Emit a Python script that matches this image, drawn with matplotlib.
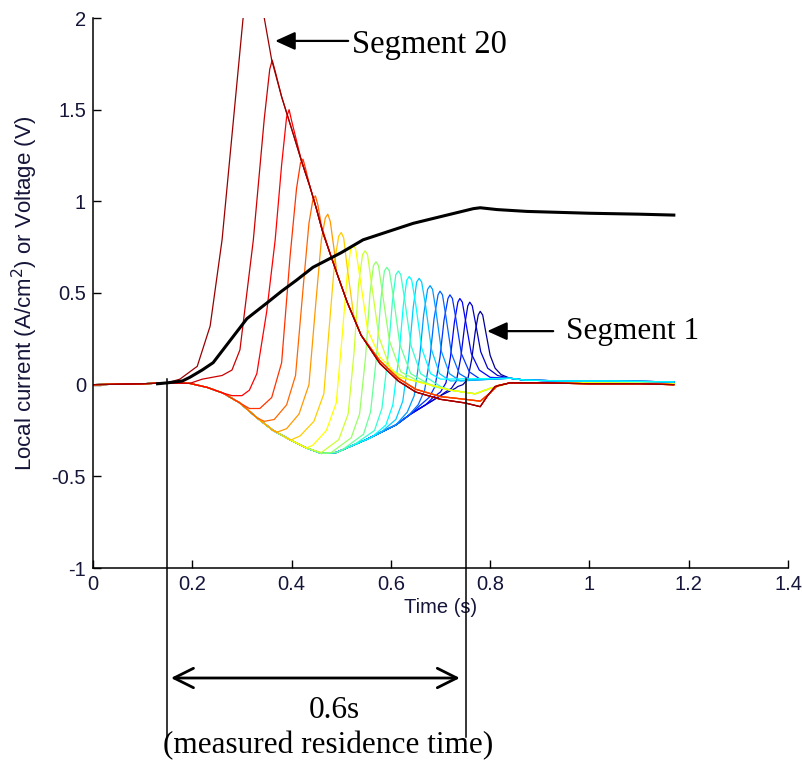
import numpy as np
import matplotlib.pyplot as plt

# --- datos (segmento 1 ... segmento 20) ---
peak_t = [0.780, 0.759, 0.739, 0.719, 0.699, 0.679, 0.657, 0.637, 0.615, 0.592,
          0.570, 0.548, 0.524, 0.500, 0.473, 0.448, 0.423, 0.395, 0.361, 0.323]
peak_v = [0.40, 0.45, 0.47, 0.49, 0.51, 0.54, 0.58, 0.59, 0.62, 0.64,
          0.67, 0.73, 0.76, 0.83, 0.93, 1.03, 1.23, 1.50, 1.77, 2.35]

# subida de cada segmento (desde que deja la envolvente negativa)
rise_pts = [
    [(0.735, -0.01), (0.745, 0.0), (0.755, 0.03), (0.763, 0.14), (0.77, 0.29), (0.776, 0.38)],
    [(0.71, -0.04), (0.722, -0.02), (0.732, 0.02), (0.741, 0.15), (0.749, 0.33), (0.755, 0.43)],
    [(0.685, -0.07), (0.70, -0.04), (0.711, 0.01), (0.72, 0.15), (0.728, 0.34), (0.735, 0.45)],
    [(0.66, -0.11), (0.677, -0.07), (0.689, -0.01), (0.699, 0.15), (0.707, 0.35), (0.715, 0.47)],
    [(0.635, -0.17), (0.655, -0.11), (0.668, -0.03), (0.679, 0.15), (0.687, 0.36), (0.695, 0.49)],
    [(0.61, -0.22), (0.633, -0.15), (0.647, -0.06), (0.658, 0.15), (0.666, 0.38), (0.674, 0.52)],
    [(0.58, -0.26), (0.61, -0.19), (0.624, -0.09), (0.636, 0.15), (0.645, 0.42), (0.652, 0.56)],
    [(0.56, -0.29), (0.59, -0.22), (0.604, -0.11), (0.616, 0.15), (0.625, 0.43), (0.632, 0.57)],
    [(0.53, -0.32), (0.567, -0.25), (0.582, -0.13), (0.594, 0.15), (0.603, 0.45), (0.61, 0.60)],
    [(0.50, -0.36), (0.545, -0.27), (0.559, -0.15), (0.571, 0.15), (0.58, 0.47), (0.587, 0.62)],
    [(0.48, -0.37), (0.52, -0.29), (0.537, -0.16), (0.549, 0.15), (0.558, 0.50), (0.565, 0.65)],
    [(0.46, -0.37), (0.495, -0.30), (0.514, -0.16), (0.526, 0.18), (0.535, 0.55), (0.543, 0.71)],
    [(0.43, -0.345), (0.443, -0.33), (0.47, -0.25), (0.49, -0.10), (0.503, 0.30), (0.512, 0.60), (0.519, 0.74)],
    [(0.40, -0.30), (0.417, -0.28), (0.445, -0.20), (0.465, -0.05), (0.477, 0.35), (0.487, 0.68), (0.495, 0.81)],
    [(0.37, -0.26), (0.39, -0.24), (0.415, -0.16), (0.435, 0.0), (0.449, 0.45), (0.46, 0.79), (0.468, 0.91)],
    [(0.345, -0.20), (0.365, -0.19), (0.39, -0.11), (0.408, 0.05), (0.424, 0.55), (0.435, 0.88), (0.443, 1.01)],
    [(0.315, -0.13), (0.336, -0.13), (0.36, -0.07), (0.38, 0.12), (0.397, 0.70), (0.41, 1.07), (0.418, 1.21)],
    [(0.28, -0.06), (0.30, -0.06), (0.315, -0.03), (0.33, 0.06), (0.35, 0.40), (0.367, 0.79), (0.38, 1.20), (0.39, 1.46)],
    [(0.22, 0.03), (0.26, 0.05), (0.28, 0.08), (0.296, 0.19), (0.323, 0.79), (0.345, 1.45), (0.356, 1.72)],
    [(0.175, 0.03), (0.21, 0.10), (0.236, 0.32), (0.26, 0.79), (0.302, 1.99), (0.315, 2.28)],
]

# bajada despues del pico
fall_pts = [
    [(0.785, 0.38), (0.791, 0.29), (0.80, 0.16), (0.81, 0.09), (0.822, 0.055)],
    [(0.764, 0.43), (0.771, 0.33), (0.781, 0.18), (0.795, 0.09), (0.815, 0.05)],
    [(0.744, 0.45), (0.751, 0.34), (0.762, 0.17), (0.778, 0.08), (0.80, 0.04)],
    [(0.724, 0.47), (0.731, 0.36), (0.742, 0.17), (0.758, 0.07), (0.78, 0.03)],
    [(0.704, 0.49), (0.711, 0.37), (0.722, 0.17), (0.738, 0.06), (0.76, 0.025)],
    [(0.684, 0.52), (0.691, 0.40), (0.702, 0.18), (0.718, 0.06), (0.74, 0.02)],
    [(0.662, 0.56), (0.67, 0.43), (0.682, 0.19), (0.698, 0.06), (0.72, 0.02)],
    [(0.642, 0.57), (0.65, 0.44), (0.662, 0.20), (0.68, 0.06), (0.70, 0.03)],
    [(0.62, 0.60), (0.628, 0.46), (0.641, 0.21), (0.66, 0.06), (0.70, -0.01)],
    [(0.597, 0.62), (0.605, 0.48), (0.618, 0.22), (0.64, 0.06), (0.685, -0.01)],
    [(0.575, 0.65), (0.583, 0.50), (0.597, 0.24), (0.62, 0.07), (0.655, 0.02)],
    [(0.553, 0.71), (0.561, 0.55), (0.576, 0.26), (0.60, 0.08), (0.635, 0.03)],
    [(0.529, 0.74), (0.538, 0.58), (0.553, 0.30), (0.578, 0.15), (0.618, 0.04)],
    [(0.505, 0.80), (0.513, 0.62), (0.525, 0.38)],
    [(0.478, 0.89), (0.486, 0.73)],
    [(0.453, 0.98), (0.46, 0.87)],
    [(0.428, 1.18)],
    [(0.40, 1.44)],
    [(0.367, 1.71)],
    [(0.333, 2.25)],
]
tail_group = ['blue'] * 8 + ['mid'] * 5 + ['orange'] * 4 + ['red'] * 3

# envolvente negativa comun
dip_t = [0.0, 0.10, 0.15, 0.195, 0.23, 0.262, 0.296, 0.33, 0.363, 0.397, 0.43, 0.46,
         0.49, 0.52, 0.55, 0.58, 0.61, 0.64, 0.67, 0.70, 0.73, 0.76]
dip_v = [0.0, 0.005, 0.01, 0.007, -0.015, -0.046, -0.10, -0.18, -0.25, -0.30, -0.345, -0.375,
         -0.37, -0.335, -0.30, -0.26, -0.22, -0.16, -0.11, -0.06, -0.02, 0.0]

# envolvente superior de caida (segmentos rojos)
upper_t = [0.345, 0.36, 0.38, 0.403, 0.42, 0.437, 0.45, 0.463, 0.477, 0.491, 0.512, 0.54]
upper_v = [2.0, 1.77, 1.57, 1.37, 1.22, 1.08, 0.96, 0.83, 0.72, 0.61, 0.45, 0.27]

red_tail_t = [0.578, 0.615, 0.65, 0.70, 0.75, 0.78, 0.795, 0.81, 0.84, 0.90, 1.0, 1.1, 1.17]
red_tail_v = [0.115, 0.02, -0.04, -0.08, -0.10, -0.12, -0.06, -0.01, 0.01, 0.01, 0.005, 0.005, 0.0]
orange_tail_t = [0.578, 0.615, 0.65, 0.70, 0.75, 0.78, 0.80, 0.815, 0.84, 0.90, 1.0, 1.1, 1.17]
orange_tail_v = [0.13, 0.035, -0.025, -0.065, -0.08, -0.09, -0.045, -0.005, 0.01, 0.01, 0.005, 0.005, 0.0]
mid_tail_t = [0.72, 0.77, 0.80, 0.84, 0.90, 1.0, 1.17]
mid_tail_v = [-0.03, -0.05, -0.02, 0.01, 0.01, 0.01, 0.005]
blue_tail_t = [0.84, 0.87, 0.95, 1.05, 1.17]
blue_tail_v = [0.035, 0.025, 0.02, 0.02, 0.015]

# voltaje (linea negra)
volt_t = [0.13, 0.15, 0.18, 0.195, 0.22, 0.242, 0.276, 0.31, 0.35, 0.38, 0.41, 0.443, 0.5,
          0.544, 0.6, 0.645, 0.713, 0.766, 0.78, 0.814, 0.874, 1.0, 1.1, 1.17]
volt_v = [0.005, 0.01, 0.02, 0.04, 0.08, 0.12, 0.24, 0.36, 0.445, 0.51, 0.57, 0.64, 0.72,
          0.79, 0.84, 0.88, 0.925, 0.96, 0.965, 0.955, 0.945, 0.935, 0.93, 0.925]

xticks = [0, 0.2, 0.4, 0.6, 0.8, 1.0, 1.2, 1.4]
xtick_labels = ['0', '0.2', '0.4', '0.6', '0.8', '1', '1.2', '1.4']
yticks = [-1, -0.5, 0, 0.5, 1, 1.5, 2]
ytick_labels = ['-1', '-0.5', '0', '0.5', '1', '1.5', '2']

# colores tipo jet(20) de MATLAB
seg_colors = [(0, 0, 0.6), (0, 0, 0.8), (0, 0, 1), (0, 0.2, 1), (0, 0.4, 1),
              (0, 0.6, 1), (0, 0.8, 1), (0, 1, 1), (0.2, 1, 0.8), (0.4, 1, 0.6),
              (0.6, 1, 0.4), (0.8, 1, 0.2), (1, 1, 0), (1, 0.8, 0), (1, 0.6, 0),
              (1, 0.4, 0), (1, 0.2, 0), (1, 0, 0), (0.8, 0, 0), (0.6, 0, 0)]

sans = ['Liberation Sans', 'DejaVu Sans']
serif = ['Liberation Serif', 'DejaVu Serif']
label_col = '#15153a'

fig = plt.figure(figsize=(8.02, 7.61), dpi=100)
ax = fig.add_axes([93/802, 1 - 568/761, 695/802, 550/761])

tails = {'blue': (blue_tail_t, blue_tail_v),
         'mid': (mid_tail_t, mid_tail_v),
         'orange': (orange_tail_t, orange_tail_v),
         'red': (red_tail_t, red_tail_v)}


def after(ts, vs, t_last):
    keep = [(x, y) for x, y in zip(ts, vs) if x > t_last + 0.004]
    return [p[0] for p in keep], [p[1] for p in keep]


for k in range(20):
    t0 = rise_pts[k][0][0]
    t = [x for x in dip_t if x < t0]
    v = [y for x, y in zip(dip_t, dip_v) if x < t0]
    t += [p[0] for p in rise_pts[k]] + [peak_t[k]] + [p[0] for p in fall_pts[k]]
    v += [p[1] for p in rise_pts[k]] + [peak_v[k]] + [p[1] for p in fall_pts[k]]
    if tail_group[k] in ('orange', 'red'):
        et, ev = after(upper_t, upper_v, t[-1])
        t += et
        v += ev
    et, ev = after(*tails[tail_group[k]], t[-1])
    t += et
    v += ev
    ax.plot(t, v, color=seg_colors[k], lw=0.9, solid_joinstyle='round')

ax.plot(volt_t, volt_v, color='k', lw=2.2)

ax.set_xlim(0, 1.4)
ax.set_ylim(-1, 2)
ax.set_xticks(xticks)
ax.set_xticklabels(xtick_labels)
ax.set_yticks(yticks)
ax.set_yticklabels(ytick_labels)
ax.spines['top'].set_visible(False)
ax.spines['right'].set_visible(False)
for s in ['left', 'bottom']:
    ax.spines[s].set_linewidth(1.1)
ax.tick_params(direction='in', length=6, width=1, labelsize=14.5, labelcolor=label_col, pad=5)
for lab in ax.get_xticklabels() + ax.get_yticklabels():
    lab.set_family(sans)

ax.set_xlabel('Time (s)', fontsize=14.5, family=sans, color=label_col, labelpad=3)
ax.set_ylabel('Local current (A/cm$^2$) or Voltage (V)', fontsize=16, family=sans,
              color=label_col, labelpad=8)

# flechas y textos
head = dict(arrowstyle='-|>,head_length=1.1,head_width=0.5', color='k', lw=1.6,
            mutation_scale=11, shrinkA=0, shrinkB=0)
ax.annotate('', xy=(0.367, 1.875), xytext=(0.514, 1.875), arrowprops=head)
ax.text(0.522, 1.853, 'Segment 20', fontsize=23.5, family=serif, va='center', ha='left')
ax.annotate('', xy=(0.794, 0.292), xytext=(0.927, 0.292), arrowprops=head)
ax.text(0.953, 0.292, 'Segment 1', fontsize=22.5, family=serif, va='center', ha='left')

# tiempo de residencia medido
ax.plot([0.15, 0.15], [0.03, -1.92], color='k', lw=1.1, clip_on=False)
ax.plot([0.752, 0.752], [0.03, -1.92], color='k', lw=1.1, clip_on=False)
ax.annotate('', xy=(0.739, -1.60), xytext=(0.157, -1.60), annotation_clip=False,
            arrowprops=dict(arrowstyle='<->,head_length=1.0,head_width=0.5', color='k',
                            lw=2, mutation_scale=14, shrinkA=0, shrinkB=0))
ax.text(0.4855, -1.775, '0.6s', fontsize=22.5, family=serif, ha='center', va='center')
ax.text(0.4734, -1.966, '(measured residence time)', fontsize=22.5, family=serif,
        ha='center', va='center')

fig.savefig('out.png', dpi=100)
